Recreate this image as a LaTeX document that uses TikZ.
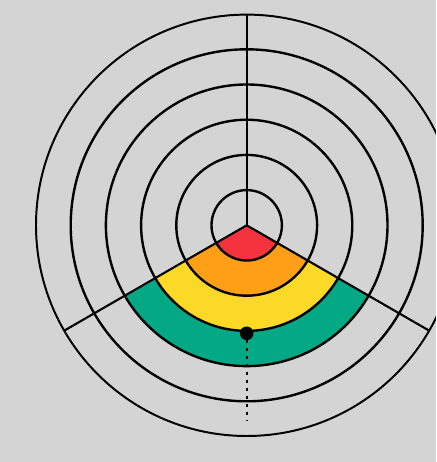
\documentclass[tikz,border=0pt]{standalone}
\usepackage{tikz}
\usetikzlibrary{positioning}
\definecolor{bggray}{HTML}{D4D4D4}
\definecolor{ringred}{HTML}{F5333F}
\definecolor{ringorange}{HTML}{FE9F17}
\definecolor{ringyellow}{HTML}{FDD927}
\definecolor{ringgreen}{HTML}{03A884}
\begin{document}
\begin{tikzpicture}[x=0.025cm, y=0.025cm,
  ring/.style={draw, line width=1.7pt},
  rim/.style={draw, line width=1.4pt},
  spoke/.style={draw, line width=1.5pt},
  pinmark/.style={circle, fill=black, inner sep=0pt, minimum size=0.34cm},
  trail/.style={line width=1.6pt, dash pattern=on 0.075cm off 0.125cm}]
\useasboundingbox (-246.7,-236.7) rectangle (189.3,225.3);
\fill[bggray] (-246.7,-236.7) rectangle (189.3,225.3);
\clip (-246.7,-236.7) rectangle (189.3,225.3);
% coloured bands of the lower sector
\fill[ringred] (0,0) -- (210:35.2) arc[start angle=210, end angle=330, radius=35.2] -- cycle;
\foreach \r/\c in {1/ringorange, 2/ringyellow, 3/ringgreen}
  \fill[\c] (210:35.2*\r) arc[start angle=210, end angle=330, radius=35.2*\r]
    -- (330:35.2*\r+35.2) arc[start angle=330, end angle=210, radius=35.2*\r+35.2] -- cycle;
% rings
\foreach \r in {1,...,5}
  \draw[ring] (0,0) circle[radius=35.2*\r];
\draw[rim] (0,0) circle[radius=210.7];
% spokes
\coordinate (hub) at (0,0);
\coordinate (top) at (90:210.7);
\coordinate (lowleft) at (210:210.7);
\coordinate (lowright) at (330:210.7);
\draw[spoke] (hub) -- (top);
\draw[spoke] (hub) -- (lowleft);
\draw[spoke] (hub) -- (lowright);
% marker and its trail
\node[pinmark] (pin) at (0,-108) {};
\coordinate (tail) at (0,-196);
\draw[trail] (pin) -- (tail);
\end{tikzpicture}
\end{document}
